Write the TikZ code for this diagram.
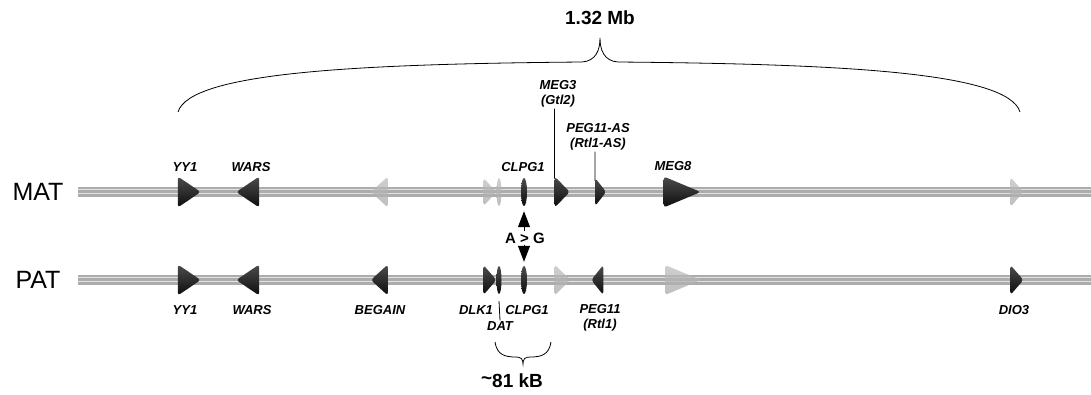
\documentclass[tikz,border=0pt]{standalone}
\usepackage{fontspec}
\setmainfont{Liberation Sans}
\usetikzlibrary{shapes.geometric,arrows.meta}

\begin{document}
\begin{tikzpicture}[x=1pt,y=-1pt]
            \tikzset{gene/.style = {shape=isosceles triangle, isosceles triangle stretches, inner sep=0pt, minimum height=23pt, minimum width=31pt, rounded corners=3pt, top color=gray!60!black, bottom color=black!95}}
            \tikzset{rev/.style = {shape border rotate=180}}
            \tikzset{thin/.style = {shape=ellipse, inner sep=0pt, minimum width=6pt, minimum height=28pt, top color=gray!60!black, bottom color=black!95}}
            \tikzset{pale/.style = {top color=gray!50, bottom color=gray!68, fill opacity=0.75}}
            \tikzset{lab/.style = {font=\bfseries\itshape\fontsize{13}{15}\selectfont, inner sep=1pt, align=center}}
            \tikzset{chrom/.style = {draw=gray!65, line width=10pt}}
            \tikzset{chromhi/.style = {draw=gray!22, line width=1.6pt}}
            \tikzset{tick/.style = {black, line width=0.8pt}}
            \tikzset{snp/.style = {black, line width=1pt, -{Triangle[length=16pt,width=12pt]}}}
            \useasboundingbox (0,0) rectangle (1091,394);
            % chromosomes
            \node[font=\fontsize{25}{28}\selectfont] (mat) at (38,192) {MAT};
            \node[font=\fontsize{25}{28}\selectfont] (pat) at (38,280) {PAT};
            \coordinate (m0) at (78,192);
            \coordinate (m1) at (1091,192);
            \coordinate (p0) at (78,280);
            \coordinate (p1) at (1091,280);
            \draw[chrom] (m0) -- (m1);
            \draw[chromhi] ([yshift=2.5pt]m0) -- ([yshift=2.5pt]m1);
            \draw[chromhi] ([yshift=-1.5pt]m0) -- ([yshift=-1.5pt]m1);
            \draw[chrom] (p0) -- (p1);
            \draw[chromhi] ([yshift=2.5pt]p0) -- ([yshift=2.5pt]p1);
            \draw[chromhi] ([yshift=-1.5pt]p0) -- ([yshift=-1.5pt]p1);
            % maternal genes
            \node[gene] (yy1m) at (186,192) {};
            \node[gene, rev] (warsm) at (251,192) {};
            \node[gene, rev, pale, minimum height=17pt] (begm) at (381,192) {};
            \node[gene, pale, minimum height=13pt, minimum width=28pt] (dlkm) at (489,192) {};
            \node[thin, pale, minimum width=5pt] (datm) at (499,192) {};
            \node[thin] (clpgm) at (524,192) {};
            \node[gene, minimum height=15pt] (meg3m) at (561,192) {};
            \node[gene, minimum height=11pt, minimum width=28pt] (pegm) at (600,192) {};
            \node[gene, minimum height=37pt, minimum width=31pt] (meg8m) at (674,192) {};
            \node[gene, pale, minimum height=13pt, minimum width=30pt] (dio3m) at (1016,192) {};
            % paternal genes
            \node[gene] (yy1p) at (186,280) {};
            \node[gene, rev] (warsp) at (251,280) {};
            \node[gene, rev, minimum height=17pt] (begp) at (381,280) {};
            \node[gene, minimum height=13pt, minimum width=30pt] (dlkp) at (489,280) {};
            \node[thin, minimum width=5pt] (datp) at (499,280) {};
            \node[thin] (clpgp) at (524,280) {};
            \node[gene, pale, minimum height=16pt] (meg3p) at (561,280) {};
            \node[gene, rev, minimum height=12pt, minimum width=30pt] (pegp) at (598,280) {};
            \node[gene, pale, minimum height=36pt, minimum width=30pt] (meg8p) at (675,280) {};
            \node[gene, minimum height=13pt, minimum width=30pt] (dio3p) at (1016,280) {};
            % labels
            \node[lab] (yy1ml) at (185,167) {YY1};
            \node[lab] (warsml) at (251,167) {WARS};
            \node[lab] (clpgml) at (523,167) {CLPG1};
            \node[lab] (meg3ml) at (558,94) {MEG3\\(Gtl2)};
            \node[lab] (pegml) at (598,137) {PEG11-AS\\(Rtl1-AS)};
            \node[lab] (meg8ml) at (673,166) {MEG8};
            \node[lab] (yy1pl) at (185,310) {YY1};
            \node[lab] (warspl) at (252,310) {WARS};
            \node[lab] (begpl) at (380,310) {BEGAIN};
            \node[lab] (dlkpl) at (476,310) {DLK1};
            \node[lab] (datpl) at (500,326) {DAT};
            \node[lab] (clpgpl) at (527,310) {CLPG1};
            \node[lab] (pegpl) at (600,318) {PEG11\\(Rtl1)};
            \node[lab] (dio3pl) at (1014,310) {DIO3};
            % ticks
            \draw[tick] (meg3ml.south -| meg3m.west) -- ([yshift=7pt]meg3m.north west);
            \draw[tick] (pegml.south -| pegm.west) -- ([yshift=6pt]pegm.north west);
            \draw[tick] ([yshift=-7pt]datp.south) -- (datpl.north);
            % snp
            \node[font=\bfseries\fontsize{15}{17}\selectfont, inner sep=1pt] (ag) at (525,238) {A > G};
            \draw[snp, shorten >=5pt] (ag.north -| clpgm) -- (clpgm.south);
            \draw[snp, shorten >=4pt] (ag.south -| clpgp) -- (clpgp.north);
            % braces
            \draw[line width=0.8pt] (178,112) .. controls (190,72) and (360,64) .. (582,62) .. controls (596,61) and (600,50) .. (600,38) .. controls (600,50) and (604,61) .. (618,62) .. controls (840,64) and (1008,72) .. (1020,112);
            \node[font=\bfseries\fontsize{19}{21}\selectfont] (big) at (600,18) {1.32 Mb};
            \draw[line width=0.8pt] (495,342) .. controls (497,355) and (505,357) .. (516,357) .. controls (521,357) and (523,359) .. (523,364) .. controls (523,359) and (525,357) .. (530,357) .. controls (541,357) and (549,355) .. (551,342);
            \node[font=\bfseries\fontsize{19}{21}\selectfont] (small) at (512,381) {\raisebox{0.3ex}{\textasciitilde}81 kB};
\end{tikzpicture}
\end{document}
